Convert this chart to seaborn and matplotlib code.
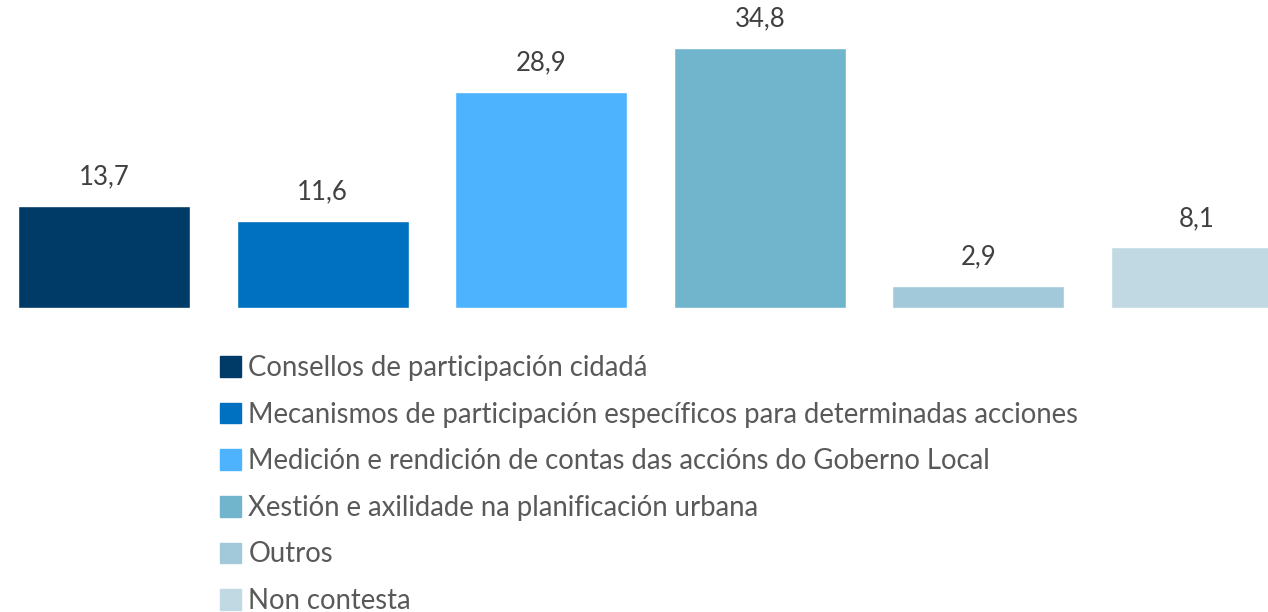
import numpy as np
import pandas as pd
import seaborn as sns
import matplotlib.pyplot as plt

categorias = [
    "Consellos de participación cidadá",
    "Mecanismos de participación específicos para determinadas acciones",
    "Medición e rendición de contas das accións do Goberno Local",
    "Xestión e axilidade na planificación urbana",
    "Outros",
    "Non contesta",
]
valores = [13.7, 11.6, 28.9, 34.8, 2.9, 8.1]
cores = ["#003A66", "#0070C0", "#4DB3FF", "#70B5CC", "#A1C9DA", "#C1D9E3"]

df = pd.DataFrame({"categoria": categorias, "valor": valores})

sns.set_style("white")
plt.rcParams["font.family"] = ["Lato", "DejaVu Sans"]

W, H = 1268, 612
fig = plt.figure(figsize=(W / 100, H / 100), dpi=100)
base = 308
ax = fig.add_axes([0, (H - base) / H, 1, base / H])

sns.barplot(
    data=df, x="categoria", y="valor", hue="categoria",
    palette=cores, width=0.787, legend=False, ax=ax, saturation=1,
)

step = 218.6
ax.set_xlim(-104 / step, (W - 104) / step)
ax.set_ylim(0, base / 7.47)
ax.set_axis_off()

for cont in ax.containers:
    ax.bar_label(cont, labels=[f"{v:.1f}".replace(".", ",") for v in cont.datavalues],
                 padding=12, fontsize=18.5, color="#404040")

handles = [plt.Rectangle((0, 0), 1, 1, color=c) for c in cores]
fig.legend(
    handles, categorias, loc="upper left",
    bbox_to_anchor=(220 / W, 1 - 355 / H), frameon=False,
    fontsize=19.8, labelcolor="#595959",
    handlelength=0.78, handleheight=0.78, handletextpad=0.25,
    labelspacing=0.75, borderpad=0, borderaxespad=0,
)

fig.savefig("out.png", dpi=100)
